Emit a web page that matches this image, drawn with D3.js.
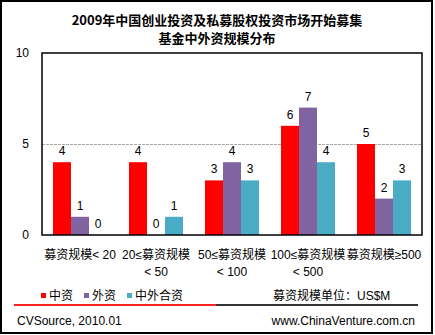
<!DOCTYPE html>
<html><head><meta charset="utf-8">
<script src="https://cdn.jsdelivr.net/npm/d3@7"></script>
<style>body{margin:0;background:#fff}svg{display:block}</style>
</head><body><svg id="c" width="435" height="335"></svg>
<script>
const categories = [["募资规模< 20"],["20≤募资规模","< 50"],["50≤募资规模","< 100"],["100≤募资规模","< 500"],["募资规模≥500"]];
const seriesNames = ["中资","外资","中外合资"];
const chinese = [4,4,3,6,5];
const foreign = [1,0,4,7,2];
const jointVenture = [0,1,3,4,3];
const yTicks = [0,5,10];
const colors = ["#ff0000","#8064a2","#4bacc6"];
const series = [chinese, foreign, jointVenture];

const svg = d3.select("#c");
const font = "Arial, 'Liberation Sans', 'Noto Sans CJK SC', sans-serif";
const L=42,R=422,T=53,B=235;

svg.append("rect").attr("x",1).attr("y",1).attr("width",431).attr("height",332)
  .attr("fill","#fff").attr("stroke","#000").attr("stroke-width",2);

const title = svg.append("text").attr("text-anchor","middle").attr("font-family","'Noto Sans CJK SC', sans-serif")
  .attr("font-weight","bold").attr("font-size",13).attr("fill","#000");
title.append("tspan").attr("x",217).attr("y",25).text("2009年中国创业投资及私募股权投资市场开始募集");
title.append("tspan").attr("x",217).attr("y",43).text("基金中外资规模分布");

const x0 = d3.scaleBand().domain(d3.range(categories.length)).range([L,R]);
const x1 = d3.scaleBand().domain(d3.range(3)).range([11, x0.bandwidth()-11]);
const y = d3.scaleLinear().domain([0,10]).range([B,T]);

// gridline at 5
svg.append("g").selectAll("line").data(yTicks.filter(t=>t>0&&t<10)).join("line")
  .attr("x1",L).attr("x2",R).attr("y1",d=>y(d)+0.5).attr("y2",d=>y(d)+0.5)
  .attr("stroke","#aaa").attr("stroke-dasharray","3,1");

// y labels
svg.append("g").selectAll("text").data(yTicks).join("text")
  .attr("x",29).attr("y",d=>y(d)+4).attr("text-anchor","end")
  .attr("font-family",font).attr("font-size",12).text(d=>d);

// bars
series.forEach((vals,si)=>{
  const g = svg.append("g");
  g.selectAll("rect").data(vals).join("rect")
    .attr("x",(d,i)=>x0(i)+x1(si)).attr("width",x1.bandwidth())
    .attr("y",d=>y(d)).attr("height",d=>B-y(d)).attr("fill",colors[si]);
  g.selectAll("text").data(vals).join("text")
    .attr("x",(d,i)=>x0(i)+x1(si)+x1.bandwidth()/2).attr("y",d=>y(d)-7)
    .attr("text-anchor","middle").attr("font-family",font).attr("font-size",12).text(d=>d);
});

// frame
svg.append("rect").attr("x",L).attr("y",T).attr("width",R-L).attr("height",B-T)
  .attr("fill","none").attr("stroke","#000").attr("stroke-width",1.5);

// x labels
const xl = svg.append("g").selectAll("text").data(categories).join("text")
  .attr("text-anchor","middle").attr("font-family",font).attr("font-size",12);
xl.each(function(lines,i){
  const t=d3.select(this);
  lines.forEach((s,j)=>t.append("tspan").attr("x",x0(i)+x0.bandwidth()/2).attr("y",259+j*17).text(s));
});

// legend
const lx=[41,84,127];
seriesNames.forEach((n,i)=>{
  svg.append("rect").attr("x",lx[i]).attr("y",293).attr("width",5).attr("height",5).attr("fill",colors[i]);
  svg.append("text").attr("x",lx[i]+8).attr("y",300).attr("font-family",font).attr("font-size",12).text(n);
});
svg.append("text").attr("x",273).attr("y",300).attr("font-family",font).attr("font-size",12).text("募资规模单位：US$M");

// separator lines
svg.append("rect").attr("x",14).attr("y",304).attr("width",202).attr("height",2).attr("fill","#ff2020");
svg.append("rect").attr("x",216).attr("y",304).attr("width",202).attr("height",2).attr("fill","#333");

svg.append("text").attr("x",17).attr("y",325).attr("font-family",font).attr("font-size",12).text("CVSource, 2010.01");
svg.append("text").attr("x",415).attr("y",325).attr("text-anchor","end").attr("font-family",font).attr("font-size",12).text("www.ChinaVenture.com.cn");
</script></body></html>
